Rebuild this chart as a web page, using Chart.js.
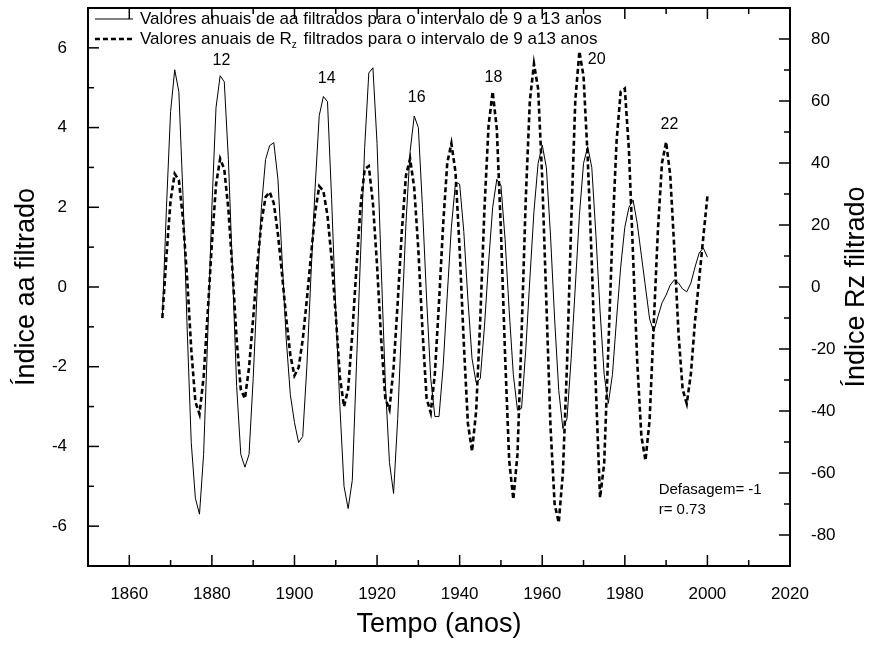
<!DOCTYPE html>
<html>
<head>
<meta charset="utf-8">
<script src="https://cdn.jsdelivr.net/npm/chart.js@4.4.0/dist/chart.umd.min.js"></script>
<style>
  body { margin: 0; background: #fff; }
  #wrap { width: 874px; height: 650px; }
</style>
</head>
<body>
<div id="wrap"><canvas id="chart" width="874" height="650"></canvas></div>
<script>
// anos 1868..2000
const startYear = 1868;
const aaValues = [
  -0.78, 2.0, 4.4, 5.45, 4.9, 2.3, -1.0, -3.9, -5.3, -5.7,
  -4.2, -1.2, 2.0, 4.5, 5.3, 5.15, 3.2, 0.4, -2.5, -4.2,
  -4.52, -4.2, -2.3, 0.0, 2.0, 3.2, 3.55, 3.62, 2.7, 0.7,
  -1.3, -2.7, -3.4, -3.9, -3.75, -2.0, 0.3, 2.5, 4.3, 4.78,
  4.65, 2.2, -0.6, -3.0, -5.0, -5.56, -4.85, -2.0, 0.8, 3.5,
  5.37, 5.5, 3.6, 0.5, -2.4, -4.4, -5.18, -3.3, -0.8, 1.6,
  3.4, 4.29, 4.0, 2.0, -0.3, -2.3, -3.25, -3.25, -2.0, -0.2,
  1.5, 2.63, 2.58, 1.4, -0.3, -1.8, -2.4, -2.3, -1.0, 0.6,
  2.0, 2.7, 2.55, 1.2, -0.6, -2.2, -3.09, -3.04, -1.6, 0.2,
  1.9, 3.1, 3.56, 3.0, 1.3, -0.8, -2.6, -3.55, -3.3, -1.8,
  0.0, 1.8, 3.1, 3.52, 3.0, 1.3, -0.6, -2.2, -2.92, -2.2,
  -0.8, 0.5, 1.5, 2.0, 2.18, 1.6, 0.8, 0.0, -0.8, -1.12,
  -0.75, -0.4, -0.2, 0.05, 0.18, 0.1, -0.05, -0.12, 0.1, 0.5,
  0.85, 0.98, 0.75
];
const rzValues = [
  -10, 10, 28, 36.5, 34.5, 22, 3, -20, -37, -41,
  -29, -8, 14, 33, 41.4, 38, 25, 5, -17, -33,
  -36, -26, -10, 7, 21, 29, 30.6, 27, 17, 4,
  -10, -22, -28.6, -26, -17, -4, 10, 24, 32.5, 31,
  23, 9, -9, -29, -38.6, -33, -15, 6, 26, 38,
  39, 27, 7, -17, -36, -39.5, -26, -5, 18, 36,
  41.4, 32, 12, -14, -36, -40.5, -28, -5, 20, 40,
  46.3, 37, 12, -18, -44, -53, -40, -10, 25, 52,
  63, 51, 18, -22, -56, -68.5, -54, -15, 28, 60,
  72, 64, 35, -5, -45, -70, -76, -60, -25, 20,
  60, 76, 68, 42, 8, -33, -68, -57, -20, 17,
  47, 63, 64, 44, 10, -24, -48, -56, -43, -12,
  18, 40, 46.8, 36, 12, -15, -33, -37.6, -28, -11,
  2.5, 16, 29.3
];
const years = aaValues.map((_, i) => startYear + i);

const xTicks = [1860, 1880, 1900, 1920, 1940, 1960, 1980, 2000, 2020];
const xMinor = [1870, 1890, 1910, 1930, 1950, 1970, 1990, 2010];
const yTicks = [-6, -4, -2, 0, 2, 4, 6];
const yMinor = [-5, -3, -1, 1, 3, 5];
const y2Ticks = [-80, -60, -40, -20, 0, 20, 40, 60, 80];
const y2Minor = [-70, -50, -30, -10, 10, 30, 50, 70];

const cycleLabels = ['12', '14', '16', '18', '20', '22'];
const cycleX = [1882.3, 1907.8, 1929.6, 1948.2, 1973.2, 1990.8];
const cycleY = [5.68, 5.22, 4.74, 5.25, 5.7, 4.07];

const legendLabels = ['Valores anuais de aa filtrados para o intervalo de 9 a 13 anos',
  'Valores anuais de R|z| filtrados para o intervalo de 9 a13 anos'];
const statsLines = ['Defasagem= -1', 'r= 0.73'];

const FONT = 'Arial, "Liberation Sans", sans-serif';

function line(ctx, x1, y1, x2, y2) {
  ctx.beginPath(); ctx.moveTo(x1, y1); ctx.lineTo(x2, y2); ctx.stroke();
}

const decor = {
  id: 'decor',
  afterDraw(chart) {
    const { ctx, chartArea: a, scales } = chart;
    ctx.save();
    ctx.strokeStyle = '#000';
    ctx.fillStyle = '#000';
    ctx.lineWidth = 2;
    ctx.strokeRect(a.left, a.top, a.right - a.left, a.bottom - a.top);

    // ticks para dentro
    ctx.lineWidth = 1.5;
    xTicks.forEach(v => { const p = scales.x.getPixelForValue(v); line(ctx, p, a.bottom, p, a.bottom - 11); line(ctx, p, a.top, p, a.top + 11); });
    xMinor.forEach(v => { const p = scales.x.getPixelForValue(v); line(ctx, p, a.bottom, p, a.bottom - 6); line(ctx, p, a.top, p, a.top + 6); });
    yTicks.forEach(v => { const p = scales.y.getPixelForValue(v); line(ctx, a.left, p, a.left + 11, p); });
    yMinor.forEach(v => { const p = scales.y.getPixelForValue(v); line(ctx, a.left, p, a.left + 6, p); });
    y2Ticks.forEach(v => { const p = scales.y2.getPixelForValue(v); line(ctx, a.right, p, a.right - 11, p); });
    y2Minor.forEach(v => { const p = scales.y2.getPixelForValue(v); line(ctx, a.right, p, a.right - 6, p); });

    // titulos dos eixos
    ctx.font = '27px ' + FONT;
    ctx.textAlign = 'center';
    ctx.textBaseline = 'middle';
    ctx.fillText('Tempo (anos)', (a.left + a.right) / 2, 625);
    ctx.save(); ctx.translate(27, (a.top + a.bottom) / 2); ctx.rotate(-Math.PI / 2);
    ctx.fillText('Índice aa filtrado', 0, 0); ctx.restore();
    ctx.save(); ctx.translate(857, (a.top + a.bottom) / 2); ctx.rotate(-Math.PI / 2);
    ctx.fillText('Índice Rz filtrado', 0, 0); ctx.restore();

    // numeros dos ciclos
    ctx.font = '16px ' + FONT;
    cycleLabels.forEach((t, i) => {
      ctx.fillText(t, scales.x.getPixelForValue(cycleX[i]), scales.y.getPixelForValue(cycleY[i]));
    });

    // defasagem / r
    ctx.font = '15px ' + FONT;
    ctx.textAlign = 'left';
    ctx.fillText(statsLines[0], scales.x.getPixelForValue(1988.2), scales.y.getPixelForValue(-5.1));
    ctx.fillText(statsLines[1], scales.x.getPixelForValue(1988.2), scales.y.getPixelForValue(-5.6));

    // legenda
    const lx = a.left + 7, ly = [a.top + 11, a.top + 31];
    ctx.lineWidth = 1;
    line(ctx, lx, ly[0], lx + 38, ly[0]);
    ctx.lineWidth = 2.5; ctx.setLineDash([5, 3]);
    line(ctx, lx, ly[1], lx + 38, ly[1]);
    ctx.setLineDash([]);
    ctx.font = '17px ' + FONT;
    ctx.fillText(legendLabels[0], lx + 45, ly[0]);
    const parts = legendLabels[1].split('|');
    let tx = lx + 45;
    ctx.fillText(parts[0], tx, ly[1]); tx += ctx.measureText(parts[0]).width;
    ctx.font = '10px ' + FONT;
    ctx.fillText(parts[1], tx, ly[1] + 6); tx += ctx.measureText(parts[1]).width + 2;
    ctx.font = '17px ' + FONT;
    ctx.fillText(parts[2], tx, ly[1]);
    ctx.restore();
  }
};

const tickFont = { family: FONT, size: 17 };

new Chart(document.getElementById('chart'), {
  type: 'line',
  data: {
    datasets: [
      { label: 'aa', data: years.map((yr, i) => ({ x: yr, y: aaValues[i] })), yAxisID: 'y',
        borderColor: '#000', borderWidth: 1, pointRadius: 0, tension: 0, fill: false },
      { label: 'Rz', data: years.map((yr, i) => ({ x: yr, y: rzValues[i] })), yAxisID: 'y2',
        borderColor: '#000', borderWidth: 2.6, borderDash: [5, 3], pointRadius: 0, tension: 0, fill: false }
    ]
  },
  options: {
    responsive: false,
    animation: false,
    layout: { padding: { top: 8, left: 0, right: 0, bottom: 0 } },
    plugins: { legend: { display: false }, tooltip: { enabled: false } },
    scales: {
      x: {
        type: 'linear', min: 1850, max: 2020,
        afterBuildTicks: s => { s.ticks = xTicks.map(v => ({ value: v })); },
        afterFit: s => { s.height = 84; s.paddingLeft = 0; s.paddingRight = 0; },
        grid: { display: false }, border: { display: false },
        ticks: { padding: 10, color: '#000', font: tickFont, maxRotation: 0, autoSkip: false, callback: v => String(v) }
      },
      y: {
        position: 'left', min: -7, max: 7,
        afterBuildTicks: s => { s.ticks = yTicks.map(v => ({ value: v })); },
        afterFit: s => { s.width = 88; s.paddingTop = 0; s.paddingBottom = 0; },
        grid: { display: false }, border: { display: false },
        ticks: { padding: 13, color: '#000', font: tickFont, callback: v => String(v) }
      },
      y2: {
        position: 'right', min: -90, max: 90,
        afterBuildTicks: s => { s.ticks = y2Ticks.map(v => ({ value: v })); },
        afterFit: s => { s.width = 84; s.paddingTop = 0; s.paddingBottom = 0; },
        grid: { display: false }, border: { display: false },
        ticks: { padding: 13, color: '#000', font: tickFont, callback: v => String(v) }
      }
    }
  },
  plugins: [decor]
});
</script>
</body>
</html>
